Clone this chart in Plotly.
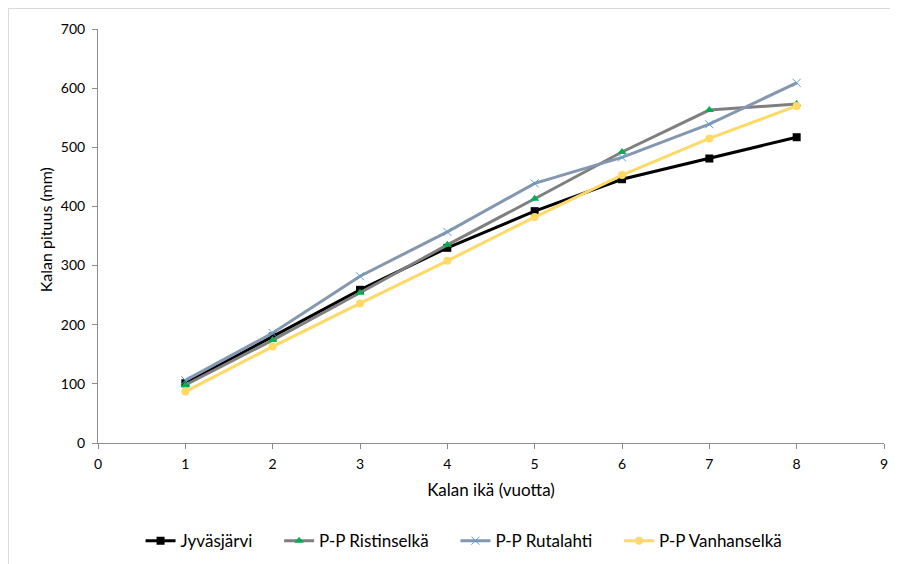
import plotly.graph_objects as go

ages = [1, 2, 3, 4, 5, 6, 7, 8]
jyvasjarvi = [101, 180, 259, 330, 392, 446, 481, 517]
ristinselka = [98, 174, 254, 335, 413, 492, 563, 573]
rutalahti = [106, 186, 282, 357, 439, 483, 539, 609]
vanhanselka = [87, 163, 236, 308, 382, 453, 515, 570]

x_ticks = list(range(0, 10))
y_ticks = list(range(0, 701, 100))

FONT = "Lato, 'Open Sans', sans-serif"
PAD = "\u00a0" * 5

fig = go.Figure()
fig.add_trace(go.Scatter(x=ages, y=jyvasjarvi, name="Jyväsjärvi" + PAD, mode="lines+markers",
                         line=dict(color="#000000", width=3),
                         marker=dict(symbol="square", size=8, color="#000000")))
fig.add_trace(go.Scatter(x=ages, y=ristinselka, name="P-P Ristinselkä" + PAD, mode="lines+markers",
                         line=dict(color="#7f7f7f", width=3),
                         marker=dict(symbol="triangle-up", size=8, color="#00b050")))
fig.add_trace(go.Scatter(x=ages, y=rutalahti, name="P-P Rutalahti" + PAD, mode="lines+markers",
                         line=dict(color="#8497b0", width=3),
                         marker=dict(symbol="x-thin", size=8, color="#5b9bd5",
                                     line=dict(color="#5b9bd5", width=1))))
fig.add_trace(go.Scatter(x=ages, y=vanhanselka, name="P-P Vanhanselkä", mode="lines+markers",
                         line=dict(color="#ffd966", width=3),
                         marker=dict(symbol="circle", size=8, color="#ffd966")))

fig.update_layout(
    width=890, height=556,
    margin=dict(l=90, r=14, t=21, b=121, autoexpand=False),
    paper_bgcolor="white", plot_bgcolor="white",
    font=dict(family=FONT, size=14, color="#000000"),
    xaxis=dict(range=[0, 9], tickvals=x_ticks, showgrid=False, zeroline=False,
               showline=True, linecolor="#8c8c8c", linewidth=1, automargin=False,
               ticks="outside", ticklen=5, tickcolor="#8c8c8c",
               tickfont=dict(size=14), ticklabelstandoff=3,
               title=dict(text="Kalan ikä (vuotta)", font=dict(size=17), standoff=13)),
    yaxis=dict(range=[0, 700], tickvals=y_ticks, showgrid=False, zeroline=False,
               showline=True, linecolor="#8c8c8c", linewidth=1, automargin=False,
               ticks="outside", ticklen=5, tickcolor="#8c8c8c",
               tickfont=dict(size=14), ticklabelstandoff=4),
    annotations=[dict(text="Kalan pituus (mm)", textangle=-90, xref="paper", yref="paper",
                      x=-0.0674, y=0.514, xanchor="center", yanchor="middle",
                      showarrow=False, font=dict(size=16))],
    legend=dict(orientation="h", x=0.4657, xanchor="center", y=-0.237, yanchor="middle",
                font=dict(size=17), traceorder="normal"),
    shapes=[dict(type="rect", xref="paper", yref="paper", x0=-0.1139, x1=1.05,
                 y0=-0.4, y1=1.0495, line=dict(color="#d9d9d9", width=1))],
)

fig.write_html("out.html")
